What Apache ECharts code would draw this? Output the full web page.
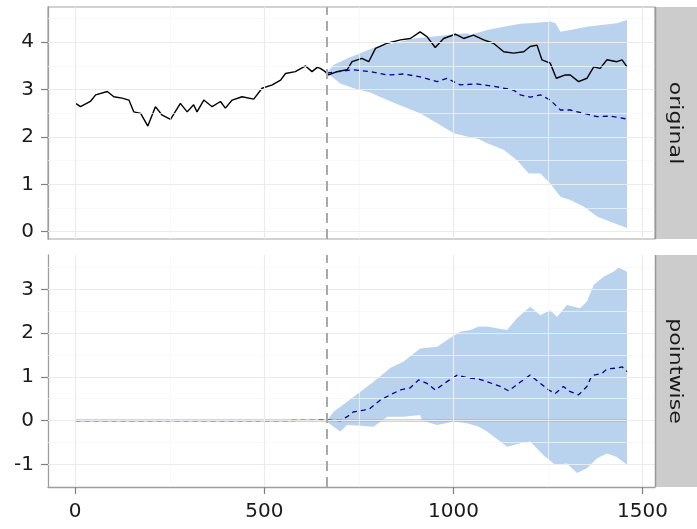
<!DOCTYPE html>
<html><head><meta charset="utf-8">
<script src="https://cdn.jsdelivr.net/npm/echarts@6/dist/echarts.min.js"></script>
<style>html,body{margin:0;padding:0;background:#fff}#c{width:697px;height:529px}</style>
</head><body><div id="c"></div>
<script>
// ---------- data ----------
const intervention = 666;
const panelNames = ['original', 'pointwise'];

const obsX = [1,14,40,54,85,102,124,142,155,173,192,212,230,252,278,296,313,322,340,362,384,397,415,441,472,494,521,543,556,582,609,626,640,648,661,670,692,719,732,758,776,794,825,860,886,912,930,952,974,1005,1027,1053,1080,1106,1133,1159,1186,1203,1221,1234,1256,1272,1296,1309,1331,1353,1371,1388,1406,1432,1446,1459];
const obsY = [2.71,2.64,2.75,2.89,2.96,2.85,2.82,2.78,2.53,2.50,2.23,2.64,2.46,2.37,2.71,2.53,2.68,2.53,2.78,2.64,2.75,2.61,2.78,2.85,2.80,3.03,3.10,3.20,3.34,3.38,3.50,3.38,3.47,3.45,3.38,3.31,3.38,3.42,3.59,3.66,3.59,3.87,3.98,4.05,4.08,4.22,4.12,3.89,4.08,4.17,4.08,4.15,4.05,3.98,3.80,3.77,3.80,3.91,3.94,3.63,3.56,3.24,3.31,3.31,3.17,3.24,3.48,3.45,3.63,3.59,3.63,3.48];

const predX = [666,736,780,825,868,912,957,983,1018,1062,1115,1159,1177,1203,1230,1256,1283,1309,1344,1380,1415,1459];
const predY = [3.35,3.42,3.38,3.31,3.33,3.27,3.17,3.24,3.10,3.12,3.06,2.99,2.89,2.84,2.89,2.78,2.57,2.57,2.50,2.43,2.44,2.38];

const upX = [666,683,719,763,798,842,895,948,1001,1036,1045,1089,1133,1177,1221,1256,1270,1283,1309,1353,1397,1432,1459];
const upY = [3.35,3.52,3.66,3.80,3.91,3.98,4.08,4.12,4.17,4.19,4.16,4.26,4.33,4.39,4.41,4.44,4.40,4.22,4.26,4.33,4.37,4.40,4.47];

const loX = [666,701,736,780,825,868,912,957,1001,1036,1067,1089,1133,1168,1199,1230,1256,1283,1309,1344,1380,1415,1459];
const loY = [3.35,3.13,3.03,2.94,2.78,2.64,2.50,2.29,2.08,2.01,1.96,1.87,1.73,1.51,1.23,1.23,1.02,0.74,0.67,0.53,0.32,0.21,0.08];

const pwX = [1,120,250,400,550,666,701,719,736,763,780,807,833,860,886,908,930,952,983,1010,1036,1067,1089,1124,1146,1177,1203,1230,1252,1269,1291,1309,1331,1353,1366,1393,1406,1432,1446,1459];
const pwY = [0,0,0,0,0,0.01,0.0,0.09,0.20,0.24,0.28,0.47,0.59,0.70,0.75,0.93,0.85,0.70,0.89,1.04,0.98,0.95,0.89,0.78,0.68,0.88,1.04,0.85,0.70,0.62,0.78,0.66,0.59,0.78,1.03,1.08,1.18,1.20,1.23,1.12];

const pwUpX = [666,683,719,754,789,833,868,912,957,983,1018,1045,1067,1089,1142,1168,1203,1230,1256,1274,1300,1335,1353,1371,1397,1423,1437,1459];
const pwUpY = [0.0,0.20,0.43,0.66,0.89,1.20,1.35,1.65,1.69,1.84,2.03,2.07,2.15,2.15,2.07,2.34,2.60,2.41,2.53,2.37,2.64,2.57,2.72,3.10,3.29,3.40,3.50,3.40];

const pwLoX = [666,701,719,754,789,825,868,912,917,957,1001,1036,1067,1089,1142,1177,1203,1238,1269,1300,1327,1353,1380,1406,1432,1459];
const pwLoY = [-0.03,-0.25,-0.10,-0.12,-0.14,0.09,0.09,0.13,0.0,-0.10,-0.02,-0.06,-0.14,-0.25,-0.60,-0.52,-0.48,-0.79,-1.01,-0.98,-1.20,-1.09,-0.86,-0.75,-0.83,-1.01];

const baseX = [1,1459];
const baseY = [0,0];

const xTicks = [0,500,1000,1500];
const xMinor = [250,750,1250];
const topYTicks = [0,1,2,3,4];
const topYMinor = [0.5,1.5,2.5,3.5,4.5];
const botYTicks = [-1,0,1,2,3];
const botYMinor = [-0.5,0.5,1.5,2.5,3.5];

// ---------- helpers ----------
const zip = (xs, ys) => xs.map((x, i) => [x, ys[i]]);
const FONT = 'DejaVu Sans';
const LABEL_COLOR = '#1A1A1A';
const majorStyle = {color:'#EBEBEB', width:1.2, type:'solid'};
const minorStyle = {color:'#F6F6F6', width:0.7, type:'solid'};
function gridMarks(yMaj, yMin){
  const d = [];
  xMinor.forEach(v => d.push({xAxis:v, lineStyle:minorStyle}));
  yMin.forEach(v => d.push({yAxis:v, lineStyle:minorStyle}));
  xTicks.forEach(v => d.push({xAxis:v, lineStyle:majorStyle}));
  yMaj.forEach(v => d.push({yAxis:v, lineStyle:majorStyle}));
  return d;
}
function bandRender(upper, lower){
  return function(params, api){
    const pts = upper.map(p => api.coord(p)).concat(lower.slice().reverse().map(p => api.coord(p)));
    return {type:'polygon', shape:{points:pts}, style:{fill:'#B9D3EE'}};
  };
}
const plain = v => String(v);
const xCommon = {type:'value', min:-72, max:1533, splitLine:{show:false}};
const axisLineStyle = {color:'#9E9E9E', width:1.3};
const labelStyle = (vals, margin) => ({show:true, customValues:vals, margin:margin, fontSize:20, fontFamily:FONT, color:LABEL_COLOR, formatter:plain});

const chart = echarts.init(document.getElementById('c'), null, {renderer:'canvas'});
chart.setOption({
  animation:false,
  backgroundColor:'#ffffff',
  grid:[
    {left:48, top:7, width:607, height:232, show:true, borderColor:'#A6A6A6', borderWidth:1.2, backgroundColor:'transparent'},
    {left:48, top:255, width:607, height:232}
  ],
  xAxis:[
    Object.assign({gridIndex:0, axisLine:{show:false}, axisTick:{show:false}, axisLabel:{show:false}}, xCommon),
    Object.assign({gridIndex:1,
      axisLine:{show:true, onZero:false, lineStyle:axisLineStyle},
      axisTick:{show:true, length:7, customValues:xTicks, lineStyle:{color:'#7F7F7F', width:1.2}},
      axisLabel:labelStyle(xTicks, 15)}, xCommon)
  ],
  yAxis:[
    {type:'value', gridIndex:0, min:-0.154, max:4.745, splitLine:{show:false},
      axisLine:{show:true, onZero:false, lineStyle:axisLineStyle},
      axisTick:{show:true, length:7, customValues:topYTicks, lineStyle:{color:'#7F7F7F', width:1.2}},
      axisLabel:labelStyle(topYTicks, 14)},
    {type:'value', gridIndex:1, min:-1.518, max:3.785, splitLine:{show:false},
      axisLine:{show:true, onZero:false, lineStyle:axisLineStyle},
      axisTick:{show:true, length:7, customValues:botYTicks, lineStyle:{color:'#7F7F7F', width:1.2}},
      axisLabel:labelStyle(botYTicks, 14)}
  ],
  series:[
    {type:'line', xAxisIndex:0, yAxisIndex:0, z:0, data:[[intervention,0]], showSymbol:false, lineStyle:{opacity:0},
      markLine:{silent:true, symbol:['none','none'], label:{show:false}, animation:false, data:gridMarks(topYTicks, topYMinor)}},
    {type:'custom', xAxisIndex:0, yAxisIndex:0, z:1, silent:true, data:[[intervention,1]], renderItem:bandRender(zip(upX,upY), zip(loX,loY))},
    {type:'line', xAxisIndex:0, yAxisIndex:0, z:3, data:zip(obsX,obsY), showSymbol:false, lineStyle:{color:'#000000', width:1.4}},
    {type:'line', xAxisIndex:0, yAxisIndex:0, z:4, data:zip(predX,predY), showSymbol:false, lineStyle:{color:'#00008B', width:1.3, type:[5,4]}},
    {type:'line', xAxisIndex:0, yAxisIndex:0, z:5, data:[[intervention,0]], showSymbol:false, lineStyle:{opacity:0},
      markLine:{silent:true, symbol:['none','none'], label:{show:false}, animation:false,
        data:[{xAxis:intervention}], lineStyle:{color:'#A9A9A9', width:2, type:[10,6]}}},

    {type:'line', xAxisIndex:1, yAxisIndex:1, z:0, data:[[intervention,0]], showSymbol:false, lineStyle:{opacity:0},
      markLine:{silent:true, symbol:['none','none'], label:{show:false}, animation:false, data:gridMarks(botYTicks, botYMinor)}},
    {type:'custom', xAxisIndex:1, yAxisIndex:1, z:1, silent:true, data:[[intervention,0]], renderItem:bandRender(zip(pwUpX,pwUpY), zip(pwLoX,pwLoY))},
    {type:'line', xAxisIndex:1, yAxisIndex:1, z:2, data:zip(baseX,baseY), showSymbol:false, lineStyle:{color:'#A9A9A9', width:2}},
    {type:'line', xAxisIndex:1, yAxisIndex:1, z:4, data:zip(pwX,pwY), showSymbol:false, lineStyle:{color:'#00008B', width:1.3, type:[5,4]}},
    {type:'line', xAxisIndex:1, yAxisIndex:1, z:5, data:[[intervention,0]], showSymbol:false, lineStyle:{opacity:0},
      markLine:{silent:true, symbol:['none','none'], label:{show:false}, animation:false,
        data:[{xAxis:intervention}], lineStyle:{color:'#A9A9A9', width:2, type:[10,6]}}}
  ],
  graphic:[
    {type:'rect', z:10, shape:{x:655, y:7, width:42, height:232}, style:{fill:'#CCCCCC'}},
    {type:'line', z:11, shape:{x1:655.5, y1:7, x2:655.5, y2:239}, style:{stroke:'#999999', lineWidth:1.5}},
    {type:'text', z:12, x:674, y:123, rotation:-Math.PI/2, scaleX:1.3,
      style:{text:panelNames[0], fontSize:17, fontFamily:FONT, fill:'#1A1A1A', textAlign:'center', textVerticalAlign:'middle'}},
    {type:'rect', z:10, shape:{x:655, y:255, width:42, height:232}, style:{fill:'#CCCCCC'}},
    {type:'line', z:11, shape:{x1:655.5, y1:255, x2:655.5, y2:487}, style:{stroke:'#999999', lineWidth:1.5}},
    {type:'text', z:12, x:674, y:371, rotation:-Math.PI/2, scaleX:1.3,
      style:{text:panelNames[1], fontSize:17, fontFamily:FONT, fill:'#1A1A1A', textAlign:'center', textVerticalAlign:'middle'}}
  ]
});
</script></body></html>
